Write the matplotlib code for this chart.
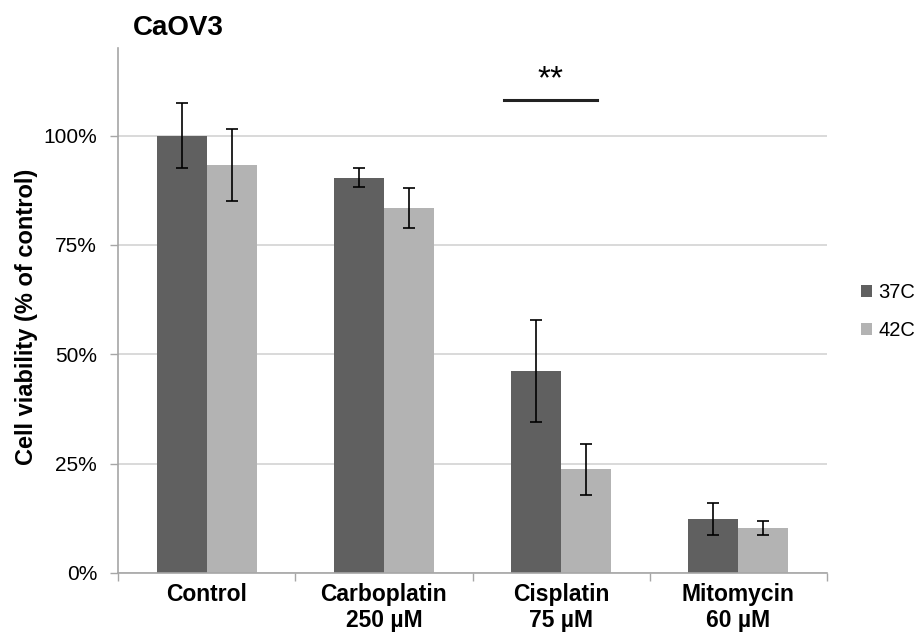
import matplotlib
matplotlib.use("Agg")
import matplotlib.pyplot as plt
import numpy as np
from matplotlib.ticker import FixedLocator, PercentFormatter

plt.rcParams['font.family'] = ['Liberation Sans', 'DejaVu Sans']

# viability, fraction of control
categories = ["Control", "Carboplatin\n250 µM", "Cisplatin\n75 µM", "Mitomycin\n60 µM"]
series_names = ["37C", "42C"]
vals_37 = [1.000, 0.904, 0.462, 0.124]
vals_42 = [0.932, 0.834, 0.237, 0.102]
err_37 = [0.075, 0.021, 0.116, 0.036]
err_42 = [0.082, 0.046, 0.059, 0.016]
yticks = [0, 0.25, 0.5, 0.75, 1.0]

dark = "#606060"
light = "#b3b3b3"

fig = plt.figure(figsize=(9.17, 6.36), dpi=100)
ax = fig.add_axes([118 / 917, 1 - 573 / 636, (827 - 118) / 917, (573 - 48) / 636])

x = np.arange(len(categories))
w = 0.2825
ax.bar(x - w / 2, vals_37, w, color=dark, label=series_names[0], zorder=2)
ax.bar(x + w / 2, vals_42, w, color=light, label=series_names[1], zorder=2)
ekw = dict(fmt="none", ecolor="black", elinewidth=1.2, capsize=4.3, capthick=1.2, zorder=3)
ax.errorbar(x - w / 2, vals_37, yerr=err_37, **ekw)
ax.errorbar(x + w / 2, vals_42, yerr=err_42, **ekw)

ax.set_xlim(-0.5, len(categories) - 0.5)
ax.set_ylim(0, 1.2)

# y axis: percent ticks with horizontal gridlines
ax.yaxis.set_major_locator(FixedLocator(yticks))
ax.yaxis.set_major_formatter(PercentFormatter(1.0, decimals=0))
ax.grid(axis="y", color="#cfcfcf", lw=1.1, zorder=0)
ax.tick_params(axis="y", length=6, width=1, color="#a6a6a6", pad=9, labelsize=15)

# x axis: boundary tick marks, labels centred under each group
ax.set_xticks(np.arange(-0.5, len(categories)), labels=[""] * (len(categories) + 1))
ax.set_xticks(x, labels=categories, minor=True)
ax.tick_params(axis="x", which="major", length=6, width=1, color="#a6a6a6")
ax.tick_params(axis="x", which="minor", length=0, pad=7, labelsize=16.5)
for lbl in ax.get_xticklabels(minor=True):
    lbl.set_fontweight("bold")

for side in ["top", "right"]:
    ax.spines[side].set_visible(False)
for side in ["left", "bottom"]:
    ax.spines[side].set_color("#a6a6a6")
    ax.spines[side].set_linewidth(1.2)

ax.set_ylabel("Cell viability (% of control)", fontsize=17, fontweight="bold")
ax.yaxis.set_label_coords(-0.113, 0.487)

# significance marker over cisplatin
ax.plot([1.675, 2.2], [1.08, 1.08], color="#222222", lw=2.2, clip_on=False)
ax.text(1.94, 1.108, "**", ha="center", va="baseline", fontsize=24)

fig.text(133 / 917, 1 - 35 / 636, "CaOV3", ha="left", va="baseline",
         fontsize=20, fontweight="bold")

fig.legend(loc="center left", bbox_to_anchor=(861 / 917, 1 - 311.5 / 636),
           frameon=False, fontsize=14.5, handlelength=0.55, handleheight=0.55,
           handletextpad=0.3, labelspacing=0.95, borderpad=0, borderaxespad=0)

fig.savefig("out.png", dpi=100)
